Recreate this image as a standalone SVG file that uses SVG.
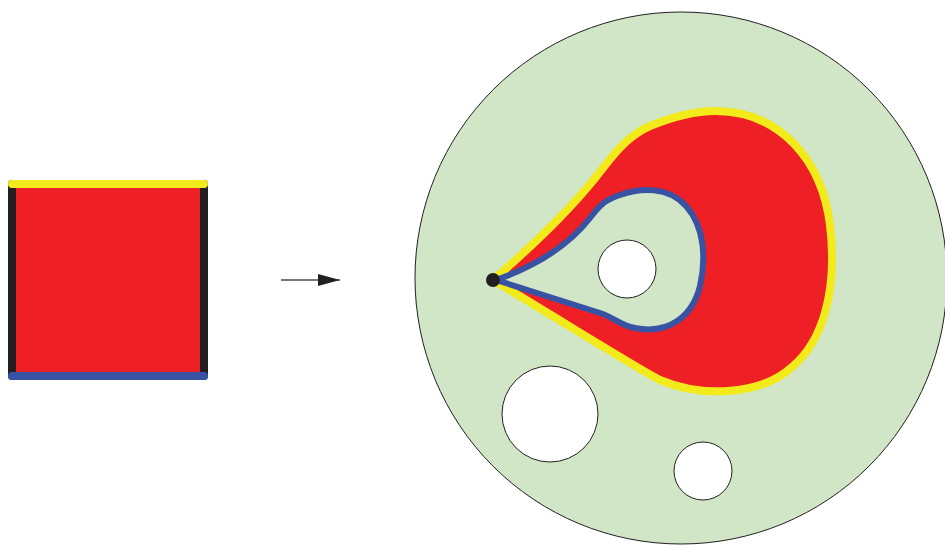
<svg xmlns="http://www.w3.org/2000/svg" width="945" height="546" viewBox="0 0 945 546">
  <style>
    .hole { fill: #ffffff; stroke: #231f20; stroke-width: 1; }
    .edge { fill: none; stroke-width: 8; stroke-linecap: round; }
  </style>
  <defs>
    <marker id="head" viewBox="0 0 22 12" refX="22" refY="6" markerWidth="22" markerHeight="12" markerUnits="userSpaceOnUse" orient="auto">
      <polygon points="0,0 22,6 0,12" fill="#231f20"/>
    </marker>
  </defs>
  <rect width="945" height="546" fill="#ffffff"/>

  <g id="square">
    <rect x="12" y="184" width="192" height="192" fill="#ee1f25"/>
    <line class="edge" x1="12" y1="184" x2="12" y2="376" stroke="#231f20" stroke-linecap="butt"/>
    <line class="edge" x1="204" y1="184" x2="204" y2="376" stroke="#231f20" stroke-linecap="butt"/>
    <line class="edge" x1="12" y1="184" x2="204" y2="184" stroke="#f2ea1b"/>
    <line class="edge" x1="12" y1="376" x2="204" y2="376" stroke="#3953a4"/>
  </g>

  <g id="connectors">
    <line x1="281" y1="280" x2="340" y2="280" stroke="#4d4d4f" stroke-width="1.3" marker-end="url(#head)"/>
  </g>

  <g id="disk">
    <circle cx="681" cy="278" r="266" fill="#d1e6c6" stroke="#231f20" stroke-width="1"/>
  </g>

  <g id="region">
    <path d="M 493 280 C 530 248, 575 205, 603 168 C 620 146, 632 134, 650 126 C 680 114, 700 111, 715 111 C 780 111, 822 160, 830 225 C 838 292, 822 342, 792 367 C 762 395, 702 398, 660 380 C 640 370, 560 320, 493 280 Z" fill="#ee1f25" stroke="#f2ea1b" stroke-width="8" stroke-linejoin="miter"/>
    <path d="M 496 280 C 530 268, 565 250, 590 218 C 600 205, 605 200, 620 195 C 640 188, 668 186, 686 206 C 705 227, 706 260, 700 286 C 693 315, 670 335, 635 328 C 620 325, 615 318, 600 313 L 496 280 Z" fill="#d1e6c6" stroke="#3953a4" stroke-width="6" stroke-linejoin="round"/>
  </g>

  <g id="hole-inner">
    <circle class="hole" cx="627" cy="269" r="29"/>
  </g>
  <g id="hole-large">
    <circle class="hole" cx="550" cy="414" r="48"/>
  </g>
  <g id="hole-small">
    <circle class="hole" cx="703" cy="471" r="29"/>
  </g>

  <g id="base-point">
    <circle cx="493" cy="280" r="7" fill="#231f20"/>
  </g>
</svg>
